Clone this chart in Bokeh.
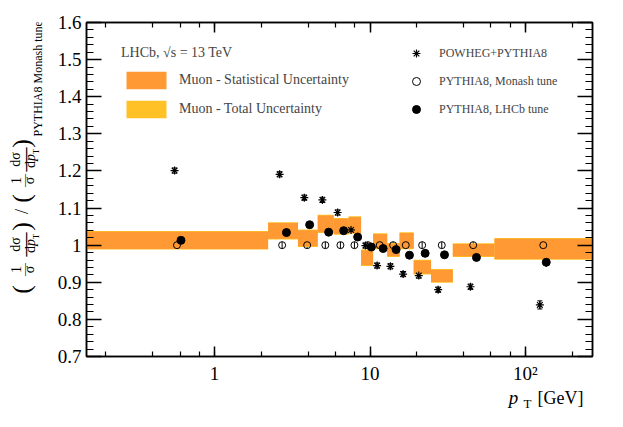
import math
from bokeh.plotting import figure
from bokeh.layouts import row, column
from bokeh.models import (ColumnDataSource, Whisker, TeeHead, Label, Legend, LegendItem,
                          LogAxis, LinearAxis, LogTicker, SingleIntervalTicker,
                          CustomJSTickFormatter, Range1d)
from bokeh.embed import file_html
from bokeh.resources import INLINE

# ---------------- data ----------------
bin_edges = [0.15, 2.21, 3.44, 4.61, 5.84, 7.29, 8.76, 10.47, 12.9, 15.5, 19.1, 24.7, 34.1, 63.2, 270.0]
stat_lo = [0.990, 1.017, 0.997, 1.035, 1.030, 1.033, 0.946, 0.991, 0.970, 0.991, 0.923, 0.901, 0.970, 0.963]
stat_hi = [1.036, 1.060, 1.040, 1.080, 1.071, 1.076, 0.986, 1.030, 1.004, 1.033, 0.959, 0.934, 1.003, 1.017]
tot_lo = [0.988, 1.015, 0.995, 1.033, 1.028, 1.031, 0.944, 0.989, 0.968, 0.989, 0.921, 0.899, 0.968, 0.961]
tot_hi = [1.038, 1.062, 1.042, 1.082, 1.073, 1.078, 0.988, 1.032, 1.006, 1.035, 0.961, 0.936, 1.005, 1.019]

powheg_pt = [0.553, 2.62, 3.78, 4.94, 6.19, 7.55, 9.34, 11.11, 13.53, 16.33, 20.59, 27.45, 44.3, 123.8]
powheg_ratio = [1.201, 1.191, 1.128, 1.122, 1.088, 1.041, 0.999, 0.945, 0.943, 0.922, 0.918, 0.880, 0.888, 0.839]
powheg_err = [0.007, 0.007, 0.007, 0.007, 0.007, 0.007, 0.007, 0.007, 0.007, 0.007, 0.007, 0.007, 0.007, 0.011]

monash_pt = [0.573, 2.72, 3.94, 5.16, 6.45, 7.94, 9.69, 11.55, 14.09, 16.98, 21.65, 28.95, 46.1, 130.2]
monash_ratio = [1.0, 1.0, 1.0, 1.0, 1.0, 1.0, 1.0, 1.0, 1.0, 1.0, 1.0, 1.0, 1.0, 1.0]
monash_err = [0.009, 0.009, 0.009, 0.009, 0.009, 0.009, 0.009, 0.009, 0.009, 0.009, 0.009, 0.009, 0.009, 0.012]

lhcb_pt = [0.608, 2.90, 4.09, 5.42, 6.77, 8.33, 10.2, 12.15, 14.72, 17.94, 22.63, 30.14, 48.4, 136.1]
lhcb_ratio = [1.013, 1.034, 1.055, 1.035, 1.039, 1.022, 0.995, 0.991, 0.988, 0.973, 0.978, 0.974, 0.967, 0.954]
lhcb_err = [0.004, 0.004, 0.004, 0.004, 0.004, 0.004, 0.004, 0.004, 0.004, 0.004, 0.004, 0.004, 0.004, 0.012]

x_tick_values = [1, 10, 100]
x_tick_labels = ["1", "10", "10²"]
y_tick_values = [0.7, 0.8, 0.9, 1.0, 1.1, 1.2, 1.3, 1.4, 1.5, 1.6]
y_tick_labels = ["0.7", "0.8", "0.9", "1", "1.1", "1.2", "1.3", "1.4", "1.5", "1.6"]

ORANGE = "#FF9933"
YELLOW = "#FFC125"
SERIF = "Liberation Serif"

# ---------------- layout sizes ----------------
YT_W = 45                     # width of the y-title strip
TOTAL_W, TOTAL_H = 607, 411
MAIN_W, MAIN_H = TOTAL_W - YT_W, 386
XT_H = TOTAL_H - MAIN_H
FRAME_TOP, FRAME_BOTTOM = 22, 357   # page rows of the plot frame

# ---------------- main figure ----------------
p = figure(width=MAIN_W, height=MAIN_H, x_axis_type="log",
           x_range=Range1d(0.15, 270), y_range=Range1d(0.7, 1.6),
           output_backend="svg", toolbar_location=None,
           min_border_left=41, min_border_right=15,
           min_border_top=FRAME_TOP, min_border_bottom=MAIN_H - FRAME_BOTTOM)
p.grid.visible = False
p.outline_line_color = "black"
p.outline_line_width = 1.5
p.background_fill_color = "white"
p.border_fill_color = "white"

def lookup_formatter(vals, labs):
    return CustomJSTickFormatter(args=dict(vals=vals, labs=labs), code="""
        for (let i = 0; i < vals.length; i++) {
            if (Math.abs(tick - vals[i]) < 1e-6 * Math.max(1, Math.abs(vals[i]))) { return labs[i]; }
        }
        return "";
    """)

blank_formatter = CustomJSTickFormatter(code="return '';")

def style_axis(ax, major_in, minor_in):
    ax.axis_line_width = 1.5
    ax.axis_line_color = "black"
    ax.major_tick_in = major_in
    ax.major_tick_out = 0
    ax.minor_tick_in = minor_in
    ax.minor_tick_out = 0
    ax.major_tick_line_width = 1.5
    ax.minor_tick_line_width = 1.2
    ax.major_label_text_font = SERIF
    ax.major_label_text_font_size = "19px"
    ax.major_label_text_color = "black"

xax = p.xaxis[0]
xax.ticker = LogTicker()
xax.formatter = lookup_formatter(x_tick_values, x_tick_labels)
style_axis(xax, 10, 5)
xax.major_label_standoff = 6

yax = p.yaxis[0]
yax.ticker = SingleIntervalTicker(interval=0.1, num_minor_ticks=5)
yax.formatter = lookup_formatter(y_tick_values, y_tick_labels)
style_axis(yax, 15, 7)
yax.major_label_standoff = 5

top_ax = LogAxis(ticker=LogTicker(), formatter=blank_formatter)
style_axis(top_ax, 10, 5)
top_ax.major_label_text_font_size = "1px"
p.add_layout(top_ax, "above")

right_ax = LinearAxis(ticker=SingleIntervalTicker(interval=0.1, num_minor_ticks=5), formatter=blank_formatter)
style_axis(right_ax, 15, 7)
right_ax.major_label_text_font_size = "1px"
p.add_layout(right_ax, "right")

# ---------------- bands ----------------
band_src = ColumnDataSource(dict(left=bin_edges[:-1], right=bin_edges[1:],
                                 stat_lo=stat_lo, stat_hi=stat_hi,
                                 tot_lo=tot_lo, tot_hi=tot_hi))
r_tot = p.quad(left="left", right="right", bottom="tot_lo", top="tot_hi", source=band_src,
               fill_color=YELLOW, line_color=None)
r_stat = p.quad(left="left", right="right", bottom="stat_lo", top="stat_hi", source=band_src,
                fill_color=ORANGE, line_color=None)

# ---------------- points ----------------
def series_source(xs, ys, es):
    return ColumnDataSource(dict(x=xs, y=ys,
                                 lower=[a - b for a, b in zip(ys, es)],
                                 upper=[a + b for a, b in zip(ys, es)]))

pow_src = series_source(powheg_pt, powheg_ratio, powheg_err)
mon_src = series_source(monash_pt, monash_ratio, monash_err)
lhc_src = series_source(lhcb_pt, lhcb_ratio, lhcb_err)

p.add_layout(Whisker(source=pow_src, base="x", lower="lower", upper="upper", dimension="height",
                     line_color="black", line_width=1,
                     upper_head=TeeHead(size=5, line_color="black", line_width=1),
                     lower_head=TeeHead(size=5, line_color="black", line_width=1)))
r_pow = p.scatter("x", "y", source=pow_src, marker="asterisk", size=8,
                  line_color="black", line_width=1.2)

p.add_layout(Whisker(source=mon_src, base="x", lower="lower", upper="upper", dimension="height",
                     line_color="black", line_width=1, upper_head=None, lower_head=None))
r_mon = p.scatter("x", "y", source=mon_src, marker="circle", size=7,
                  line_color="black", fill_color=None, line_width=1)

p.add_layout(Whisker(source=lhc_src, base="x", lower="lower", upper="upper", dimension="height",
                     line_color="black", line_width=1.5, upper_head=None, lower_head=None))
r_lhc = p.scatter("x", "y", source=lhc_src, marker="circle", size=8,
                  line_color="black", fill_color="black")

# ---------------- legends ----------------
leg1 = Legend(items=[LegendItem(label="Muon - Statistical Uncertainty", renderers=[r_stat]),
                     LegendItem(label="Muon - Total Uncertainty", renderers=[r_tot])],
              title="LHCb, √s = 13 TeV", location=(35, 236),
              glyph_width=50, glyph_height=22, spacing=7, label_standoff=8,
              padding=0, margin=0, border_line_color=None, background_fill_alpha=0,
              label_text_font=SERIF, label_text_font_size="14px",
              title_text_font=SERIF, title_text_font_size="14px", title_text_font_style="normal",
              title_standoff=8)
p.add_layout(leg1)

leg2 = Legend(items=[LegendItem(label="POWHEG+PYTHIA8", renderers=[r_pow]),
                     LegendItem(label="PYTHIA8, Monash tune", renderers=[r_mon]),
                     LegendItem(label="PYTHIA8, LHCb tune", renderers=[r_lhc])],
              location=(320, 237),
              glyph_width=20, glyph_height=20, spacing=8, label_standoff=13,
              padding=0, margin=0, border_line_color=None, background_fill_alpha=0,
              label_text_font=SERIF, label_text_font_size="12px", label_height=20)
p.add_layout(leg2)

# ---------------- title strips ----------------
def blank_fig(w, h):
    f = figure(width=w, height=h, x_range=Range1d(0, 1), y_range=Range1d(0, 1),
               x_axis_type=None, y_axis_type=None, output_backend="svg", toolbar_location=None,
               min_border_left=0, min_border_right=0, min_border_top=0, min_border_bottom=0)
    f.outline_line_color = None
    f.grid.visible = False
    f.background_fill_color = "white"
    f.border_fill_color = "white"
    return f

yfig = blank_fig(YT_W, MAIN_H)      # its frame is aligned with the main frame rows
xfig = blank_fig(TOTAL_W, XT_H)     # page x 0..607, y MAIN_H..411

def lab(fig, ox, oy_bottom, text, px, py, size, angle=0.0, style="normal", align="center"):
    fig.add_layout(Label(x=px - ox, y=oy_bottom - py, x_units="screen", y_units="screen", text=text,
                         angle=angle, text_font=SERIF, text_font_size=f"{size}px",
                         text_font_style=style, text_align=align, text_baseline="middle",
                         text_color="black"))

V = math.pi / 2
def ylab(*a, **k):
    lab(yfig, 0, FRAME_BOTTOM, *a, **k)

# y title: (1/σ dσ/dpT) / (1/σ dσ/dpT)_PYTHIA8 Monash tune
def fraction_group(c_open, c_one, c_dsig, c_close):
    ylab("(", 21, c_open, 26, V)
    ylab("1", 15, c_one, 14, V)
    ylab("—", 23, c_one, 13, V)
    ylab("σ", 29, c_one, 14, V)
    ylab("dσ", 15, c_dsig, 14, V)
    ylab("—", 23, c_dsig, 24, V)
    ylab("d", 30, c_dsig + 5, 14, V)
    ylab("p", 30, c_dsig - 2, 14, V, "italic")
    ylab("T", 35, c_dsig - 8, 9, V)
    ylab(")", 21, c_close, 26, V)

fraction_group(290, 270, 245, 227)
ylab("/", 21, 212, 18, V)
fraction_group(199, 181, 160, 144)
ylab("PYTHIA8 Monash tune", 37, 137, 12, V, align="left")

def xlab(*a, **k):
    lab(xfig, 0, TOTAL_H, *a, **k)

# x title: pT [GeV]
xlab("p", 513, 397, 19, 0.0, "italic")
xlab("T", 527, 403, 13)
xlab("[GeV]", 537, 397, 18, align="left")

layout = column(row(yfig, p, spacing=0), xfig, spacing=0)
open("out.html", "w").write(file_html(layout, INLINE))
